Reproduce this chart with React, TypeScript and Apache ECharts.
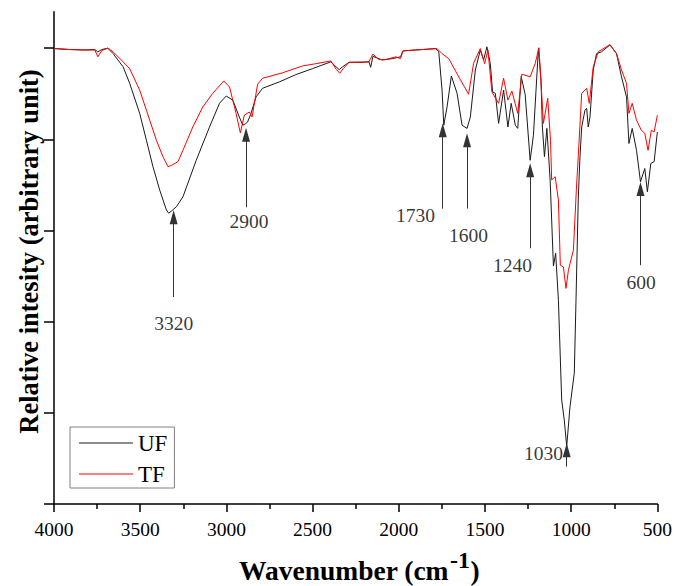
import React, { useEffect, useRef } from 'react';
import * as echarts from 'echarts';

// Wavenumber (cm-1), relative intensity (arbitrary unit)
const ufSpectrum: [number, number][] = [
  [3994, 99.9], [3907, 99.7], [3821, 99.6], [3763, 99.7], [3746, 99.2], [3722, 99.7], [3688, 100.0],
  [3657, 98.8], [3599, 95.9], [3561, 92.3], [3503, 85.7], [3464, 79.8], [3426, 74.0], [3387, 68.9],
  [3348, 64.5], [3335, 63.8], [3318, 64.3], [3290, 65.2], [3252, 67.4], [3175, 75.4], [3098, 82.7],
  [3040, 87.9], [3001, 89.5], [2963, 88.6], [2925, 84.9], [2905, 83.1], [2890, 83.4], [2877, 83.8],
  [2857, 85.7], [2828, 89.3], [2790, 91.2], [2693, 92.6], [2597, 94.2], [2501, 95.5], [2394, 97.0],
  [2375, 96.3], [2346, 95.3], [2327, 95.9], [2288, 96.9], [2212, 96.9], [2173, 97.0], [2163, 95.8],
  [2150, 98.2], [2096, 97.4], [2038, 97.7], [1990, 98.1], [1976, 99.4], [1903, 99.6], [1787, 99.9],
  [1768, 99.2], [1749, 90.8], [1739, 83.1], [1720, 87.1], [1695, 93.9], [1662, 90.1], [1633, 83.1],
  [1604, 82.4], [1585, 84.9], [1556, 95.2], [1527, 99.6], [1508, 97.4], [1489, 100.3], [1469, 96.6],
  [1456, 90.4], [1440, 90.1], [1421, 83.5], [1392, 90.8], [1367, 82.7], [1348, 87.9], [1324, 83.1],
  [1310, 82.4], [1290, 93.8], [1267, 89.9], [1238, 75.4], [1219, 80.9], [1190, 99.9], [1175, 93.0],
  [1167, 82.7], [1155, 76.2], [1141, 82.4], [1122, 71.1], [1103, 52.2], [1090, 55.0], [1074, 44.7],
  [1055, 22.8], [1040, 18.4], [1026, 12.6], [1007, 21.3], [982, 28.7], [972, 44.7], [959, 66.7],
  [950, 75.4], [939, 82.7], [920, 86.4], [910, 86.8], [901, 82.7], [891, 84.9], [872, 95.2],
  [853, 98.8], [824, 99.2], [775, 100.7], [737, 98.8], [708, 93.7], [679, 89.3], [665, 79.1],
  [646, 82.4], [621, 77.6], [598, 70.7], [573, 73.6], [558, 68.5], [538, 74.7], [519, 75.1], [500, 81.6],
];

const tfSpectrum: [number, number][] = [
  [3994, 99.9], [3907, 99.7], [3821, 99.6], [3763, 99.6], [3746, 98.1], [3722, 99.5], [3688, 100.0],
  [3657, 99.2], [3599, 97.0], [3561, 95.5], [3503, 90.8], [3464, 86.4], [3406, 79.8], [3368, 76.2],
  [3339, 74.0], [3319, 74.3], [3281, 75.1], [3252, 77.6], [3195, 82.7], [3137, 87.1], [3079, 90.1],
  [3015, 92.8], [2982, 91.5], [2944, 85.7], [2919, 81.4], [2896, 85.3], [2867, 86.0], [2851, 84.9],
  [2819, 92.1], [2790, 93.4], [2674, 94.6], [2558, 96.1], [2481, 96.6], [2394, 97.2], [2362, 95.3],
  [2342, 94.5], [2323, 95.5], [2288, 96.9], [2173, 97.0], [2150, 98.7], [2115, 97.5], [2076, 97.5],
  [2018, 98.1], [1990, 97.7], [1976, 99.4], [1903, 99.6], [1778, 99.9], [1749, 98.8], [1710, 97.7],
  [1652, 93.7], [1595, 89.9], [1566, 96.7], [1527, 99.9], [1502, 96.6], [1483, 99.6], [1460, 90.4],
  [1421, 87.9], [1392, 93.4], [1367, 88.6], [1344, 90.6], [1310, 85.7], [1286, 94.3], [1238, 93.7],
  [1209, 96.6], [1187, 100.1], [1161, 83.5], [1136, 89.0], [1120, 79.8], [1113, 71.1], [1093, 71.8],
  [1074, 66.7], [1063, 52.4], [1045, 52.0], [1030, 47.3], [1016, 51.3], [987, 55.7], [970, 68.9],
  [959, 76.2], [939, 90.1], [910, 91.2], [895, 87.9], [872, 95.9], [843, 99.2], [775, 100.8],
  [737, 98.8], [708, 95.2], [679, 92.3], [665, 85.7], [646, 87.9], [621, 84.2], [593, 82.0],
  [573, 81.3], [554, 77.6], [535, 82.0], [519, 81.6], [500, 85.3],
];

// Peak annotations
const peakLabels = ['3320', '2900', '1730', '1600', '1240', '1030', '600'];
const arrowX = [3306, 2886, 1745, 1604, 1238, 1026, 598];
const arrowFrom = [45.4, 65.1, 64.8, 64.8, 56.1, 8.2, 52.4];
const arrowTo = [62.9, 81.0, 82.0, 79.8, 73.2, 11.8, 69.1];
const labelX = [3306, 2869, 1903, 1595, 1340, 1161, 594];
const labelY = [39.7, 61.9, 63.4, 59.0, 52.4, 11.0, 48.5];

const yTickValues = [0, 20, 40, 60, 80, 100];
const seriesNames = ['UF', 'TF'];

export default function App() {
  const ref = useRef<HTMLDivElement>(null);

  useEffect(() => {
    if (!ref.current) return;
    const chart = echarts.init(ref.current, null, { renderer: 'svg' });
    const serif = '"Liberation Serif", "Times New Roman", serif';

    const arrows = arrowX.map((x, i) => [
      { coord: [x, arrowFrom[i]] },
      { coord: [x, arrowTo[i]] },
    ]);

    chart.setOption({
      animation: false,
      backgroundColor: '#ffffff',
      grid: { left: 54, right: 15.7, top: 11.7, bottom: 82 },
      legend: {
        data: seriesNames,
        orient: 'vertical',
        left: 70,
        top: 427,
        icon: 'rect',
        itemWidth: 54,
        itemHeight: 1,
        itemGap: 8,
        padding: [4.5, 7, 2.5, 9],
        borderColor: '#808080',
        borderWidth: 1,
        backgroundColor: '#ffffff',
        selectedMode: false,
        textStyle: { fontFamily: serif, fontSize: 23, color: '#000' },
      },
      xAxis: {
        type: 'value',
        inverse: true,
        min: 500,
        max: 4000,
        interval: 500,
        axisLine: { show: true, lineStyle: { color: '#000', width: 1.5 } },
        axisTick: { show: true, length: 8, lineStyle: { color: '#000', width: 1.5 } },
        minorTick: { show: true, splitNumber: 2, length: 5, lineStyle: { color: '#000', width: 1.5 } },
        axisLabel: {
          fontFamily: serif,
          fontSize: 19.5,
          color: '#000',
          margin: 15,
          formatter: (v: number) => String(v),
        },
        splitLine: { show: false },
        minorSplitLine: { show: false },
      },
      yAxis: {
        type: 'value',
        min: 0,
        max: 108,
        interval: 20,
        axisLine: { show: true, lineStyle: { color: '#000', width: 1.5 } },
        axisTick: { show: true, length: 10, customValues: yTickValues, lineStyle: { color: '#000', width: 1.5 } },
        axisLabel: { show: false },
        splitLine: { show: false },
      },
      series: [
        {
          name: 'UF',
          type: 'line',
          data: ufSpectrum,
          symbol: 'none',
          silent: true,
          lineStyle: { color: '#1a1a1a', width: 1 },
          itemStyle: { color: '#1a1a1a' },
          z: 2,
        },
        {
          name: 'TF',
          type: 'line',
          data: tfSpectrum,
          symbol: 'none',
          silent: true,
          lineStyle: { color: '#ff0000', width: 1 },
          itemStyle: { color: '#ff0000' },
          z: 3,
        },
        {
          name: 'peaks',
          type: 'scatter',
          silent: true,
          symbolSize: 1,
          itemStyle: { color: 'rgba(0,0,0,0)' },
          data: peakLabels.map((t, i) => ({ name: t, value: [labelX[i], labelY[i]] })),
          label: {
            show: true,
            position: 'inside',
            formatter: '{b}',
            fontFamily: serif,
            fontSize: 19.5,
            color: '#000',
          },
          z: 4,
          markLine: {
            silent: true,
            symbol: ['none', 'path://M0,0 L4,14 L-4,14 Z'],
            symbolSize: 14,
            symbolKeepAspect: true,
            lineStyle: { color: '#333', width: 1, type: 'solid' },
            label: { show: false },
            emphasis: { disabled: true },
            data: arrows,
          },
        },
      ],
      graphic: [
        {
          type: 'text',
          x: 29,
          y: 251.5,
          rotation: Math.PI / 2,
          style: {
            text: 'Relative intesity (arbitrary unit)',
            fontFamily: serif,
            fontSize: 26.5,
            fontWeight: 'bold',
            fill: '#000',
            textAlign: 'center',
            textVerticalAlign: 'middle',
            verticalAlign: 'middle',
          },
        },
        {
          type: 'text',
          x: 448.5,
          y: 570.5,
          style: {
            text: 'Wavenumber (cm',
            fontFamily: serif,
            fontSize: 27.5,
            fontWeight: 'bold',
            fill: '#000',
            textAlign: 'right',
            textVerticalAlign: 'middle',
            verticalAlign: 'middle',
          },
        },
        {
          type: 'text',
          x: 450,
          y: 559.6,
          style: {
            text: '-1',
            fontFamily: serif,
            fontSize: 24,
            fontWeight: 'bold',
            fill: '#000',
            textAlign: 'left',
            textVerticalAlign: 'middle',
            verticalAlign: 'middle',
          },
        },
        {
          type: 'text',
          x: 470.5,
          y: 570.5,
          style: {
            text: ')',
            fontFamily: serif,
            fontSize: 27.5,
            fontWeight: 'bold',
            fill: '#000',
            textAlign: 'left',
            textVerticalAlign: 'middle',
            verticalAlign: 'middle',
          },
        },
      ],
    });

    return () => chart.dispose();
  }, []);

  return (
    <div
      ref={ref}
      style={{ position: 'absolute', left: 0, top: 0, width: 675, height: 586, background: '#fff' }}
    />
  );
}
